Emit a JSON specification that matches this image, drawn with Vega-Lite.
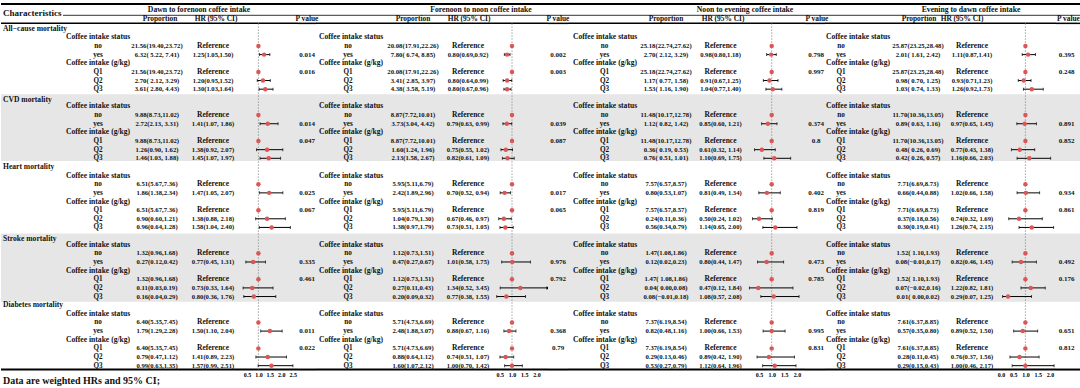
{
"$schema":"https://vega.github.io/schema/vega-lite/v6.json",
"padding":0,
"spacing":0,
"bounds":"flush",
"background":"#ffffff",
"config":{"view":{"stroke":null},"text":{"font":"Liberation Serif","fontWeight":"bold","color":"#111111","baseline":"middle"},"axis":{"labelFont":"Liberation Serif","labelFontWeight":"bold","labelFontSize":6,"labelColor":"#000000","domain":false,"ticks":false,"grid":false,"labelPadding":1,"labelOverlap":false,"labelFlush":false}},
"datasets":{
"labels":[
{"row":0,"kind":"outcome","text":"All−cause mortality"},{"row":1,"kind":"group","text":"Coffee intake status"},{"row":4,"kind":"group","text":"Coffee intake (g/kg)"},
{"row":8,"kind":"outcome","text":"CVD mortality"},{"row":9,"kind":"group","text":"Coffee intake status"},{"row":12,"kind":"group","text":"Coffee intake (g/kg)"},
{"row":16,"kind":"outcome","text":"Heart mortality"},{"row":17,"kind":"group","text":"Coffee intake status"},{"row":20,"kind":"group","text":"Coffee intake (g/kg)"},
{"row":24,"kind":"outcome","text":"Stroke mortality"},{"row":25,"kind":"group","text":"Coffee intake status"},{"row":28,"kind":"group","text":"Coffee intake (g/kg)"},
{"row":32,"kind":"outcome","text":"Diabetes mortality"},{"row":33,"kind":"group","text":"Coffee intake status"},{"row":36,"kind":"group","text":"Coffee intake (g/kg)"}
],
"main":[
{"period":"Dawn to forenoon","outcome":"All-cause","row":2,"level":"no","proportion":"21.56(19.40,23.72)","hr_text":"Reference","hr":1},
{"period":"Dawn to forenoon","outcome":"All-cause","row":3,"level":"yes","proportion":"6.32( 5.22, 7.41)","hr_text":"1.25(1.05,1.50)","hr":1.25,"lower":1.05,"upper":1.5,"p":"0.014"},
{"period":"Dawn to forenoon","outcome":"All-cause","row":5,"level":"Q1","proportion":"21.56(19.40,23.72)","hr_text":"Reference","hr":1,"p":"0.016"},
{"period":"Dawn to forenoon","outcome":"All-cause","row":6,"level":"Q2","proportion":"2.70( 2.12, 3.29)","hr_text":"1.20(0.95,1.52)","hr":1.2,"lower":0.95,"upper":1.52},
{"period":"Dawn to forenoon","outcome":"All-cause","row":7,"level":"Q3","proportion":"3.61( 2.80, 4.43)","hr_text":"1.30(1.03,1.64)","hr":1.3,"lower":1.03,"upper":1.64},
{"period":"Dawn to forenoon","outcome":"CVD","row":10,"level":"no","proportion":"9.88(8.73,11.02)","hr_text":"Reference","hr":1},
{"period":"Dawn to forenoon","outcome":"CVD","row":11,"level":"yes","proportion":"2.72(2.13, 3.31)","hr_text":"1.41(1.07, 1.86)","hr":1.41,"lower":1.07,"upper":1.86,"p":"0.014"},
{"period":"Dawn to forenoon","outcome":"CVD","row":13,"level":"Q1","proportion":"9.88(8.73,11.02)","hr_text":"Reference","hr":1,"p":"0.047"},
{"period":"Dawn to forenoon","outcome":"CVD","row":14,"level":"Q2","proportion":"1.26(0.90, 1.62)","hr_text":"1.38(0.92, 2.07)","hr":1.38,"lower":0.92,"upper":2.07},
{"period":"Dawn to forenoon","outcome":"CVD","row":15,"level":"Q3","proportion":"1.46(1.03, 1.88)","hr_text":"1.45(1.07, 1.97)","hr":1.45,"lower":1.07,"upper":1.97},
{"period":"Dawn to forenoon","outcome":"Heart","row":18,"level":"no","proportion":"6.51(5.67,7.36)","hr_text":"Reference","hr":1},
{"period":"Dawn to forenoon","outcome":"Heart","row":19,"level":"yes","proportion":"1.86(1.38,2.34)","hr_text":"1.47(1.05, 2.07)","hr":1.47,"lower":1.05,"upper":2.07,"p":"0.025"},
{"period":"Dawn to forenoon","outcome":"Heart","row":21,"level":"Q1","proportion":"6.51(5.67,7.36)","hr_text":"Reference","hr":1,"p":"0.067"},
{"period":"Dawn to forenoon","outcome":"Heart","row":22,"level":"Q2","proportion":"0.90(0.60,1.21)","hr_text":"1.38(0.88, 2.18)","hr":1.38,"lower":0.88,"upper":2.18},
{"period":"Dawn to forenoon","outcome":"Heart","row":23,"level":"Q3","proportion":"0.96(0.64,1.28)","hr_text":"1.58(1.04, 2.40)","hr":1.58,"lower":1.04,"upper":2.4},
{"period":"Dawn to forenoon","outcome":"Stroke","row":26,"level":"no","proportion":"1.32(0.96,1.68)","hr_text":"Reference","hr":1},
{"period":"Dawn to forenoon","outcome":"Stroke","row":27,"level":"yes","proportion":"0.27(0.12,0.42)","hr_text":"0.77(0.45, 1.31)","hr":0.77,"lower":0.45,"upper":1.31,"p":"0.335"},
{"period":"Dawn to forenoon","outcome":"Stroke","row":29,"level":"Q1","proportion":"1.32(0.96,1.68)","hr_text":"Reference","hr":1,"p":"0.461"},
{"period":"Dawn to forenoon","outcome":"Stroke","row":30,"level":"Q2","proportion":"0.11(0.03,0.19)","hr_text":"0.73(0.33, 1.64)","hr":0.73,"lower":0.33,"upper":1.64},
{"period":"Dawn to forenoon","outcome":"Stroke","row":31,"level":"Q3","proportion":"0.16(0.04,0.29)","hr_text":"0.80(0.36, 1.76)","hr":0.8,"lower":0.36,"upper":1.76},
{"period":"Dawn to forenoon","outcome":"Diabetes","row":34,"level":"no","proportion":"6.40(5.35,7.45)","hr_text":"Reference","hr":1},
{"period":"Dawn to forenoon","outcome":"Diabetes","row":35,"level":"yes","proportion":"1.79(1.29,2.28)","hr_text":"1.50(1.10, 2.04)","hr":1.5,"lower":1.1,"upper":2.04,"p":"0.011"},
{"period":"Dawn to forenoon","outcome":"Diabetes","row":37,"level":"Q1","proportion":"6.40(5.35,7.45)","hr_text":"Reference","hr":1,"p":"0.022"},
{"period":"Dawn to forenoon","outcome":"Diabetes","row":38,"level":"Q2","proportion":"0.79(0.47,1.12)","hr_text":"1.41(0.89, 2.23)","hr":1.41,"lower":0.89,"upper":2.23},
{"period":"Dawn to forenoon","outcome":"Diabetes","row":39,"level":"Q3","proportion":"0.99(0.63,1.35)","hr_text":"1.57(0.99, 2.51)","hr":1.57,"lower":0.99,"upper":2.51},
{"period":"Forenoon to noon","outcome":"All-cause","row":2,"level":"no","proportion":"20.08(17.91,22.26)","hr_text":"Reference","hr":1},
{"period":"Forenoon to noon","outcome":"All-cause","row":3,"level":"yes","proportion":"7.80( 6.74, 8.85)","hr_text":"0.80(0.69,0.92)","hr":0.8,"lower":0.69,"upper":0.92,"p":"0.002"},
{"period":"Forenoon to noon","outcome":"All-cause","row":5,"level":"Q1","proportion":"20.08(17.91,22.26)","hr_text":"Reference","hr":1,"p":"0.003"},
{"period":"Forenoon to noon","outcome":"All-cause","row":6,"level":"Q2","proportion":"3.41( 2.85, 3.97)","hr_text":"0.80(0.64,0.99)","hr":0.8,"lower":0.64,"upper":0.99},
{"period":"Forenoon to noon","outcome":"All-cause","row":7,"level":"Q3","proportion":"4.38( 3.58, 5.19)","hr_text":"0.80(0.67,0.96)","hr":0.8,"lower":0.67,"upper":0.96},
{"period":"Forenoon to noon","outcome":"CVD","row":10,"level":"no","proportion":"8.87(7.72,10.01)","hr_text":"Reference","hr":1},
{"period":"Forenoon to noon","outcome":"CVD","row":11,"level":"yes","proportion":"3.73(3.04, 4.42)","hr_text":"0.79(0.63, 0.99)","hr":0.79,"lower":0.63,"upper":0.99,"p":"0.039"},
{"period":"Forenoon to noon","outcome":"CVD","row":13,"level":"Q1","proportion":"8.87(7.72,10.01)","hr_text":"Reference","hr":1,"p":"0.087"},
{"period":"Forenoon to noon","outcome":"CVD","row":14,"level":"Q2","proportion":"1.60(1.24, 1.96)","hr_text":"0.75(0.55, 1.02)","hr":0.75,"lower":0.55,"upper":1.02},
{"period":"Forenoon to noon","outcome":"CVD","row":15,"level":"Q3","proportion":"2.13(1.58, 2.67)","hr_text":"0.82(0.61, 1.09)","hr":0.82,"lower":0.61,"upper":1.09},
{"period":"Forenoon to noon","outcome":"Heart","row":18,"level":"no","proportion":"5.95(5.11,6.79)","hr_text":"Reference","hr":1},
{"period":"Forenoon to noon","outcome":"Heart","row":19,"level":"yes","proportion":"2.42(1.89,2.96)","hr_text":"0.70(0.52, 0.94)","hr":0.7,"lower":0.52,"upper":0.94,"p":"0.017"},
{"period":"Forenoon to noon","outcome":"Heart","row":21,"level":"Q1","proportion":"5.95(5.11,6.79)","hr_text":"Reference","hr":1,"p":"0.065"},
{"period":"Forenoon to noon","outcome":"Heart","row":22,"level":"Q2","proportion":"1.04(0.79,1.30)","hr_text":"0.67(0.46, 0.97)","hr":0.67,"lower":0.46,"upper":0.97},
{"period":"Forenoon to noon","outcome":"Heart","row":23,"level":"Q3","proportion":"1.38(0.97,1.79)","hr_text":"0.73(0.51, 1.05)","hr":0.73,"lower":0.51,"upper":1.05},
{"period":"Forenoon to noon","outcome":"Stroke","row":26,"level":"no","proportion":"1.12(0.73,1.51)","hr_text":"Reference","hr":1},
{"period":"Forenoon to noon","outcome":"Stroke","row":27,"level":"yes","proportion":"0.47(0.27,0.67)","hr_text":"1.01(0.58, 1.75)","hr":1.01,"lower":0.58,"upper":1.75,"p":"0.976"},
{"period":"Forenoon to noon","outcome":"Stroke","row":29,"level":"Q1","proportion":"1.12(0.73,1.51)","hr_text":"Reference","hr":1,"p":"0.792"},
{"period":"Forenoon to noon","outcome":"Stroke","row":30,"level":"Q2","proportion":"0.27(0.11,0.43)","hr_text":"1.34(0.52, 3.45)","hr":1.34,"lower":0.52,"upper":3.45},
{"period":"Forenoon to noon","outcome":"Stroke","row":31,"level":"Q3","proportion":"0.20(0.09,0.32)","hr_text":"0.77(0.38, 1.55)","hr":0.77,"lower":0.38,"upper":1.55},
{"period":"Forenoon to noon","outcome":"Diabetes","row":34,"level":"no","proportion":"5.71(4.73,6.69)","hr_text":"Reference","hr":1},
{"period":"Forenoon to noon","outcome":"Diabetes","row":35,"level":"yes","proportion":"2.48(1.88,3.07)","hr_text":"0.88(0.67, 1.16)","hr":0.88,"lower":0.67,"upper":1.16,"p":"0.368"},
{"period":"Forenoon to noon","outcome":"Diabetes","row":37,"level":"Q1","proportion":"5.71(4.73,6.69)","hr_text":"Reference","hr":1,"p":"0.79"},
{"period":"Forenoon to noon","outcome":"Diabetes","row":38,"level":"Q2","proportion":"0.88(0.64,1.12)","hr_text":"0.74(0.51, 1.07)","hr":0.74,"lower":0.51,"upper":1.07},
{"period":"Forenoon to noon","outcome":"Diabetes","row":39,"level":"Q3","proportion":"1.60(1.07,2.12)","hr_text":"1.00(0.70, 1.42)","hr":1.0,"lower":0.7,"upper":1.42},
{"period":"Noon to evening","outcome":"All-cause","row":2,"level":"no","proportion":"25.18(22.74,27.62)","hr_text":"Reference","hr":1},
{"period":"Noon to evening","outcome":"All-cause","row":3,"level":"yes","proportion":"2.70( 2.12, 3.29)","hr_text":"0.98(0.80,1.18)","hr":0.98,"lower":0.8,"upper":1.18,"p":"0.798"},
{"period":"Noon to evening","outcome":"All-cause","row":5,"level":"Q1","proportion":"25.18(22.74,27.62)","hr_text":"Reference","hr":1,"p":"0.997"},
{"period":"Noon to evening","outcome":"All-cause","row":6,"level":"Q2","proportion":"1.17( 0.77, 1.58)","hr_text":"0.91(0.67,1.25)","hr":0.91,"lower":0.67,"upper":1.25},
{"period":"Noon to evening","outcome":"All-cause","row":7,"level":"Q3","proportion":"1.53( 1.16, 1.90)","hr_text":"1.04(0.77,1.40)","hr":1.04,"lower":0.77,"upper":1.4},
{"period":"Noon to evening","outcome":"CVD","row":10,"level":"no","proportion":"11.48(10.17,12.78)","hr_text":"Reference","hr":1},
{"period":"Noon to evening","outcome":"CVD","row":11,"level":"yes","proportion":"1.12( 0.82, 1.42)","hr_text":"0.85(0.60, 1.21)","hr":0.85,"lower":0.6,"upper":1.21,"p":"0.374"},
{"period":"Noon to evening","outcome":"CVD","row":13,"level":"Q1","proportion":"11.48(10.17,12.78)","hr_text":"Reference","hr":1,"p":"0.8"},
{"period":"Noon to evening","outcome":"CVD","row":14,"level":"Q2","proportion":"0.36( 0.19, 0.53)","hr_text":"0.61(0.32, 1.14)","hr":0.61,"lower":0.32,"upper":1.14},
{"period":"Noon to evening","outcome":"CVD","row":15,"level":"Q3","proportion":"0.76( 0.51, 1.01)","hr_text":"1.10(0.69, 1.75)","hr":1.1,"lower":0.69,"upper":1.75},
{"period":"Noon to evening","outcome":"Heart","row":18,"level":"no","proportion":"7.57(6.57,8.57)","hr_text":"Reference","hr":1},
{"period":"Noon to evening","outcome":"Heart","row":19,"level":"yes","proportion":"0.80(0.53,1.07)","hr_text":"0.81(0.49, 1.34)","hr":0.81,"lower":0.49,"upper":1.34,"p":"0.402"},
{"period":"Noon to evening","outcome":"Heart","row":21,"level":"Q1","proportion":"7.57(6.57,8.57)","hr_text":"Reference","hr":1,"p":"0.819"},
{"period":"Noon to evening","outcome":"Heart","row":22,"level":"Q2","proportion":"0.24(0.11,0.36)","hr_text":"0.50(0.24, 1.02)","hr":0.5,"lower":0.24,"upper":1.02},
{"period":"Noon to evening","outcome":"Heart","row":23,"level":"Q3","proportion":"0.56(0.34,0.79)","hr_text":"1.14(0.65, 2.00)","hr":1.14,"lower":0.65,"upper":2.0},
{"period":"Noon to evening","outcome":"Stroke","row":26,"level":"no","proportion":"1.47(1.08,1.86)","hr_text":"Reference","hr":1},
{"period":"Noon to evening","outcome":"Stroke","row":27,"level":"yes","proportion":"0.12(0.02,0.23)","hr_text":"0.80(0.44, 1.47)","hr":0.8,"lower":0.44,"upper":1.47,"p":"0.473"},
{"period":"Noon to evening","outcome":"Stroke","row":29,"level":"Q1","proportion":"1.47( 1.08,1.86)","hr_text":"Reference","hr":1,"p":"0.785"},
{"period":"Noon to evening","outcome":"Stroke","row":30,"level":"Q2","proportion":"0.04( 0.00,0.08)","hr_text":"0.47(0.12, 1.84)","hr":0.47,"lower":0.12,"upper":1.84},
{"period":"Noon to evening","outcome":"Stroke","row":31,"level":"Q3","proportion":"0.08(−0.01,0.18)","hr_text":"1.08(0.57, 2.08)","hr":1.08,"lower":0.57,"upper":2.08},
{"period":"Noon to evening","outcome":"Diabetes","row":34,"level":"no","proportion":"7.37(6.19,8.54)","hr_text":"Reference","hr":1},
{"period":"Noon to evening","outcome":"Diabetes","row":35,"level":"yes","proportion":"0.82(0.48,1.16)","hr_text":"1.00(0.66, 1.53)","hr":1.0,"lower":0.66,"upper":1.53,"p":"0.995"},
{"period":"Noon to evening","outcome":"Diabetes","row":37,"level":"Q1","proportion":"7.37(6.19,8.54)","hr_text":"Reference","hr":1,"p":"0.831"},
{"period":"Noon to evening","outcome":"Diabetes","row":38,"level":"Q2","proportion":"0.29(0.13,0.46)","hr_text":"0.89(0.42, 1.90)","hr":0.89,"lower":0.42,"upper":1.9},
{"period":"Noon to evening","outcome":"Diabetes","row":39,"level":"Q3","proportion":"0.53(0.27,0.79)","hr_text":"1.12(0.64, 1.96)","hr":1.12,"lower":0.64,"upper":1.96},
{"period":"Evening to dawn","outcome":"All-cause","row":2,"level":"no","proportion":"25.87(23.25,28.48)","hr_text":"Reference","hr":1},
{"period":"Evening to dawn","outcome":"All-cause","row":3,"level":"yes","proportion":"2.01( 1.61, 2.42)","hr_text":"1.11(0.87,1.41)","hr":1.11,"lower":0.87,"upper":1.41,"p":"0.395"},
{"period":"Evening to dawn","outcome":"All-cause","row":5,"level":"Q1","proportion":"25.87(23.25,28.48)","hr_text":"Reference","hr":1,"p":"0.248"},
{"period":"Evening to dawn","outcome":"All-cause","row":6,"level":"Q2","proportion":"0.98( 0.70, 1.25)","hr_text":"0.93(0.71,1.23)","hr":0.93,"lower":0.71,"upper":1.23},
{"period":"Evening to dawn","outcome":"All-cause","row":7,"level":"Q3","proportion":"1.03( 0.74, 1.33)","hr_text":"1.26(0.92,1.73)","hr":1.26,"lower":0.92,"upper":1.73},
{"period":"Evening to dawn","outcome":"CVD","row":10,"level":"no","proportion":"11.70(10.36,13.05)","hr_text":"Reference","hr":1},
{"period":"Evening to dawn","outcome":"CVD","row":11,"level":"yes","proportion":"0.89( 0.63, 1.16)","hr_text":"0.97(0.65, 1.45)","hr":0.97,"lower":0.65,"upper":1.45,"p":"0.891"},
{"period":"Evening to dawn","outcome":"CVD","row":13,"level":"Q1","proportion":"11.70(10.36,13.05)","hr_text":"Reference","hr":1,"p":"0.852"},
{"period":"Evening to dawn","outcome":"CVD","row":14,"level":"Q2","proportion":"0.48( 0.26, 0.69)","hr_text":"0.77(0.43, 1.38)","hr":0.77,"lower":0.43,"upper":1.38},
{"period":"Evening to dawn","outcome":"CVD","row":15,"level":"Q3","proportion":"0.42( 0.26, 0.57)","hr_text":"1.16(0.66, 2.03)","hr":1.16,"lower":0.66,"upper":2.03},
{"period":"Evening to dawn","outcome":"Heart","row":18,"level":"no","proportion":"7.71(6.69,8.73)","hr_text":"Reference","hr":1},
{"period":"Evening to dawn","outcome":"Heart","row":19,"level":"yes","proportion":"0.66(0.44,0.88)","hr_text":"1.02(0.66, 1.58)","hr":1.02,"lower":0.66,"upper":1.58,"p":"0.934"},
{"period":"Evening to dawn","outcome":"Heart","row":21,"level":"Q1","proportion":"7.71(6.69,8.73)","hr_text":"Reference","hr":1,"p":"0.861"},
{"period":"Evening to dawn","outcome":"Heart","row":22,"level":"Q2","proportion":"0.37(0.18,0.56)","hr_text":"0.74(0.32, 1.69)","hr":0.74,"lower":0.32,"upper":1.69},
{"period":"Evening to dawn","outcome":"Heart","row":23,"level":"Q3","proportion":"0.30(0.19,0.41)","hr_text":"1.26(0.74, 2.15)","hr":1.26,"lower":0.74,"upper":2.15},
{"period":"Evening to dawn","outcome":"Stroke","row":26,"level":"no","proportion":"1.52( 1.10,1.93)","hr_text":"Reference","hr":1},
{"period":"Evening to dawn","outcome":"Stroke","row":27,"level":"yes","proportion":"0.08(−0.01,0.17)","hr_text":"0.82(0.46, 1.45)","hr":0.82,"lower":0.46,"upper":1.45,"p":"0.492"},
{"period":"Evening to dawn","outcome":"Stroke","row":29,"level":"Q1","proportion":"1.52( 1.10,1.93)","hr_text":"Reference","hr":1,"p":"0.176"},
{"period":"Evening to dawn","outcome":"Stroke","row":30,"level":"Q2","proportion":"0.07(−0.02,0.16)","hr_text":"1.22(0.82, 1.81)","hr":1.22,"lower":0.82,"upper":1.81},
{"period":"Evening to dawn","outcome":"Stroke","row":31,"level":"Q3","proportion":"0.01( 0.00,0.02)","hr_text":"0.29(0.07, 1.25)","hr":0.29,"lower":0.07,"upper":1.25},
{"period":"Evening to dawn","outcome":"Diabetes","row":34,"level":"no","proportion":"7.61(6.37,8.85)","hr_text":"Reference","hr":1},
{"period":"Evening to dawn","outcome":"Diabetes","row":35,"level":"yes","proportion":"0.57(0.35,0.80)","hr_text":"0.89(0.52, 1.50)","hr":0.89,"lower":0.52,"upper":1.5,"p":"0.651"},
{"period":"Evening to dawn","outcome":"Diabetes","row":37,"level":"Q1","proportion":"7.61(6.37,8.85)","hr_text":"Reference","hr":1,"p":"0.812"},
{"period":"Evening to dawn","outcome":"Diabetes","row":38,"level":"Q2","proportion":"0.28(0.11,0.45)","hr_text":"0.76(0.37, 1.56)","hr":0.76,"lower":0.37,"upper":1.56},
{"period":"Evening to dawn","outcome":"Diabetes","row":39,"level":"Q3","proportion":"0.29(0.15,0.43)","hr_text":"1.00(0.46, 2.17)","hr":1.0,"lower":0.46,"upper":2.17}
]},
"hconcat":[
{"width":62,"height":370,"layer":[
{"data":{"values":[{}]},"mark":{"type":"rect","color":"#e6e6e6"},"encoding":{"y":{"datum":7.6,"type":"quantitative","scale":{"domain":[-3.322,39.502],"reverse":true,"nice":false,"zero":false},"axis":null},"y2":{"datum":15.3}}},
{"data":{"values":[{}]},"mark":{"type":"rect","color":"#e6e6e6"},"encoding":{"y":{"datum":23.7,"type":"quantitative","scale":{"domain":[-3.322,39.502],"reverse":true,"nice":false,"zero":false},"axis":null},"y2":{"datum":31.6}}},
{"data":{"values":[{}]},"mark":{"type":"rule","color":"#000000","strokeWidth":2},"encoding":{"y":{"datum":-2.86,"type":"quantitative","scale":{"domain":[-3.322,39.502],"reverse":true,"nice":false,"zero":false},"axis":null}}},
{"data":{"values":[{}]},"mark":{"type":"rule","color":"#000000","strokeWidth":1.5},"encoding":{"y":{"datum":-0.62,"type":"quantitative","scale":{"domain":[-3.322,39.502],"reverse":true,"nice":false,"zero":false},"axis":null}}},
{"data":{"values":[{}]},"mark":{"type":"rule","color":"#000000","strokeWidth":2},"encoding":{"y":{"datum":39.45,"type":"quantitative","scale":{"domain":[-3.322,39.502],"reverse":true,"nice":false,"zero":false},"axis":null}}},
{"data":{"values":[{}]},"mark":{"type":"text","align":"left","dx":-29,"fontSize":9},"encoding":{"y":{"datum":-1.78,"type":"quantitative","scale":{"domain":[-3.322,39.502],"reverse":true,"nice":false,"zero":false},"axis":null},"text":{"value":"Characteristics"}}},
{"data":{"name":"labels"},"transform":[{"filter":"datum.kind==='outcome' && datum.text!=='CVD mortality' && datum.text!=='Stroke mortality'"}],"mark":{"type":"text","align":"left","dx":-29,"fontSize":7.6},"encoding":{"y":{"field":"row","type":"quantitative","scale":{"domain":[-3.322,39.502],"reverse":true,"nice":false,"zero":false},"axis":null},"text":{"field":"text"}}},
{"data":{"name":"labels"},"transform":[{"filter":"datum.text==='CVD mortality' || datum.text==='Stroke mortality'"}],"mark":{"type":"text","align":"left","dx":-29,"dy":2.5,"fontSize":7.6},"encoding":{"y":{"field":"row","type":"quantitative","scale":{"domain":[-3.322,39.502],"reverse":true,"nice":false,"zero":false},"axis":null},"text":{"field":"text"}}},
{"data":{"values":[{}]},"mark":{"type":"text","align":"left","dx":-29,"fontSize":10},"encoding":{"y":{"datum":40.78,"type":"quantitative","scale":{"domain":[-3.322,39.502],"reverse":true,"nice":false,"zero":false},"axis":null},"text":{"value":"Data are weighted HRs and 95% CI;"}}}
]},

{"width":72,"height":370,"layer":[
{"data":{"values":[{}]},"mark":{"type":"rect","color":"#e6e6e6"},"encoding":{"y":{"datum":7.6,"type":"quantitative","scale":{"domain":[-3.322,39.502],"reverse":true,"nice":false,"zero":false},"axis":null},"y2":{"datum":15.3}}},
{"data":{"values":[{}]},"mark":{"type":"rect","color":"#e6e6e6"},"encoding":{"y":{"datum":23.7,"type":"quantitative","scale":{"domain":[-3.322,39.502],"reverse":true,"nice":false,"zero":false},"axis":null},"y2":{"datum":31.6}}},
{"data":{"values":[{}]},"mark":{"type":"rule","color":"#000000","strokeWidth":2},"encoding":{"y":{"datum":-2.86,"type":"quantitative","scale":{"domain":[-3.322,39.502],"reverse":true,"nice":false,"zero":false},"axis":null}}},
{"data":{"values":[{}]},"mark":{"type":"rule","color":"#000000","strokeWidth":0.8},"encoding":{"y":{"datum":-1.55,"type":"quantitative","scale":{"domain":[-3.322,39.502],"reverse":true,"nice":false,"zero":false},"axis":null}}},
{"data":{"values":[{}]},"mark":{"type":"rule","color":"#000000","strokeWidth":1.5},"encoding":{"y":{"datum":-0.62,"type":"quantitative","scale":{"domain":[-3.322,39.502],"reverse":true,"nice":false,"zero":false},"axis":null}}},
{"data":{"values":[{}]},"mark":{"type":"rule","color":"#000000","strokeWidth":2},"encoding":{"y":{"datum":39.45,"type":"quantitative","scale":{"domain":[-3.322,39.502],"reverse":true,"nice":false,"zero":false},"axis":null}}},
{"data":{"name":"labels"},"transform":[{"filter":"datum.kind==='group'"}],"mark":{"type":"text","align":"left","dx":-33,"fontSize":7.6},"encoding":{"y":{"field":"row","type":"quantitative","scale":{"domain":[-3.322,39.502],"reverse":true,"nice":false,"zero":false},"axis":null},"text":{"field":"text"}}},
{"data":{"name":"main"},"transform":[{"filter":"datum.period==='Dawn to forenoon'"}],"mark":{"type":"text","fontSize":7.2,"dx":-1},"encoding":{"y":{"field":"row","type":"quantitative","scale":{"domain":[-3.322,39.502],"reverse":true,"nice":false,"zero":false},"axis":null},"text":{"field":"level"}}}
]},

{"width":52,"height":370,"layer":[
{"data":{"values":[{}]},"mark":{"type":"rect","color":"#e6e6e6"},"encoding":{"y":{"datum":7.6,"type":"quantitative","scale":{"domain":[-3.322,39.502],"reverse":true,"nice":false,"zero":false},"axis":null},"y2":{"datum":15.3}}},
{"data":{"values":[{}]},"mark":{"type":"rect","color":"#e6e6e6"},"encoding":{"y":{"datum":23.7,"type":"quantitative","scale":{"domain":[-3.322,39.502],"reverse":true,"nice":false,"zero":false},"axis":null},"y2":{"datum":31.6}}},
{"data":{"values":[{}]},"mark":{"type":"rule","color":"#000000","strokeWidth":2},"encoding":{"y":{"datum":-2.86,"type":"quantitative","scale":{"domain":[-3.322,39.502],"reverse":true,"nice":false,"zero":false},"axis":null}}},
{"data":{"values":[{}]},"mark":{"type":"rule","color":"#000000","strokeWidth":0.8},"encoding":{"y":{"datum":-1.55,"type":"quantitative","scale":{"domain":[-3.322,39.502],"reverse":true,"nice":false,"zero":false},"axis":null}}},
{"data":{"values":[{}]},"mark":{"type":"rule","color":"#000000","strokeWidth":1.5},"encoding":{"y":{"datum":-0.62,"type":"quantitative","scale":{"domain":[-3.322,39.502],"reverse":true,"nice":false,"zero":false},"axis":null}}},
{"data":{"values":[{}]},"mark":{"type":"rule","color":"#000000","strokeWidth":2},"encoding":{"y":{"datum":39.45,"type":"quantitative","scale":{"domain":[-3.322,39.502],"reverse":true,"nice":false,"zero":false},"axis":null}}},
{"data":{"values":[{}]},"mark":{"type":"text","fontSize":7.4,"dx":-1},"encoding":{"y":{"datum":-1.088,"type":"quantitative","scale":{"domain":[-3.322,39.502],"reverse":true,"nice":false,"zero":false},"axis":null},"text":{"value":"Proportion"}}},
{"data":{"name":"main"},"transform":[{"filter":"datum.period==='Dawn to forenoon'"}],"mark":{"type":"text","fontSize":6.7,"dx":-4},"encoding":{"y":{"field":"row","type":"quantitative","scale":{"domain":[-3.322,39.502],"reverse":true,"nice":false,"zero":false},"axis":null},"text":{"field":"proportion"}}}
]},

{"width":54,"height":370,"layer":[
{"data":{"values":[{}]},"mark":{"type":"rect","color":"#e6e6e6"},"encoding":{"y":{"datum":7.6,"type":"quantitative","scale":{"domain":[-3.322,39.502],"reverse":true,"nice":false,"zero":false},"axis":null},"y2":{"datum":15.3}}},
{"data":{"values":[{}]},"mark":{"type":"rect","color":"#e6e6e6"},"encoding":{"y":{"datum":23.7,"type":"quantitative","scale":{"domain":[-3.322,39.502],"reverse":true,"nice":false,"zero":false},"axis":null},"y2":{"datum":31.6}}},
{"data":{"values":[{}]},"mark":{"type":"rule","color":"#000000","strokeWidth":2},"encoding":{"y":{"datum":-2.86,"type":"quantitative","scale":{"domain":[-3.322,39.502],"reverse":true,"nice":false,"zero":false},"axis":null}}},
{"data":{"values":[{}]},"mark":{"type":"rule","color":"#000000","strokeWidth":0.8},"encoding":{"y":{"datum":-1.55,"type":"quantitative","scale":{"domain":[-3.322,39.502],"reverse":true,"nice":false,"zero":false},"axis":null}}},
{"data":{"values":[{}]},"mark":{"type":"rule","color":"#000000","strokeWidth":1.5},"encoding":{"y":{"datum":-0.62,"type":"quantitative","scale":{"domain":[-3.322,39.502],"reverse":true,"nice":false,"zero":false},"axis":null}}},
{"data":{"values":[{}]},"mark":{"type":"rule","color":"#000000","strokeWidth":2},"encoding":{"y":{"datum":39.45,"type":"quantitative","scale":{"domain":[-3.322,39.502],"reverse":true,"nice":false,"zero":false},"axis":null}}},
{"data":{"values":[{}]},"mark":{"type":"text","fontSize":7.7,"dx":-15},"encoding":{"y":{"datum":-2.164,"type":"quantitative","scale":{"domain":[-3.322,39.502],"reverse":true,"nice":false,"zero":false},"axis":null},"text":{"value":"Dawn to forenoon coffee intake"}}},
{"data":{"values":[{}]},"mark":{"type":"text","fontSize":7.4,"dx":2},"encoding":{"y":{"datum":-1.088,"type":"quantitative","scale":{"domain":[-3.322,39.502],"reverse":true,"nice":false,"zero":false},"axis":null},"text":{"value":"HR (95% CI)"}}},
{"data":{"name":"main"},"transform":[{"filter":"datum.period==='Dawn to forenoon'"}],"mark":{"type":"text","dx":-1},"encoding":{"y":{"field":"row","type":"quantitative","scale":{"domain":[-3.322,39.502],"reverse":true,"nice":false,"zero":false},"axis":null},"text":{"field":"hr_text"},"size":{"condition":{"test":"datum.hr_text==='Reference'","value":7.5},"value":6.6}}}
]},

{"width":57,"height":370,"layer":[
{"data":{"values":[{}]},"mark":{"type":"rect","color":"#e6e6e6"},"encoding":{"x":{"datum":0.2385,"type":"quantitative","scale":{"domain":[0.2385,2.733],"nice":false,"zero":false,"clamp":true},"axis":{"values":[0.5,1,1.5,2,2.5],"format":".1f","title":null}},"x2":{"datum":2.733},"y":{"datum":7.6,"type":"quantitative","scale":{"domain":[-3.322,39.502],"reverse":true,"nice":false,"zero":false},"axis":null},"y2":{"datum":15.3}}},
{"data":{"values":[{}]},"mark":{"type":"rect","color":"#e6e6e6"},"encoding":{"x":{"datum":0.2385,"type":"quantitative","scale":{"domain":[0.2385,2.733],"nice":false,"zero":false,"clamp":true},"axis":{"values":[0.5,1,1.5,2,2.5],"format":".1f","title":null}},"x2":{"datum":2.733},"y":{"datum":23.7,"type":"quantitative","scale":{"domain":[-3.322,39.502],"reverse":true,"nice":false,"zero":false},"axis":null},"y2":{"datum":31.6}}},
{"data":{"values":[{}]},"mark":{"type":"rule","color":"#000000","strokeWidth":2},"encoding":{"x":{"datum":0.2385,"type":"quantitative","scale":{"domain":[0.2385,2.733],"nice":false,"zero":false,"clamp":true},"axis":{"values":[0.5,1,1.5,2,2.5],"format":".1f","title":null}},"x2":{"datum":2.733},"y":{"datum":-2.86,"type":"quantitative","scale":{"domain":[-3.322,39.502],"reverse":true,"nice":false,"zero":false},"axis":null}}},
{"data":{"values":[{}]},"mark":{"type":"rule","color":"#000000","strokeWidth":0.8},"encoding":{"x":{"datum":0.2385,"type":"quantitative","scale":{"domain":[0.2385,2.733],"nice":false,"zero":false,"clamp":true},"axis":{"values":[0.5,1,1.5,2,2.5],"format":".1f","title":null}},"x2":{"datum":2.733},"y":{"datum":-1.55,"type":"quantitative","scale":{"domain":[-3.322,39.502],"reverse":true,"nice":false,"zero":false},"axis":null}}},
{"data":{"values":[{}]},"mark":{"type":"rule","color":"#000000","strokeWidth":1.5},"encoding":{"x":{"datum":0.2385,"type":"quantitative","scale":{"domain":[0.2385,2.733],"nice":false,"zero":false,"clamp":true},"axis":{"values":[0.5,1,1.5,2,2.5],"format":".1f","title":null}},"x2":{"datum":2.733},"y":{"datum":-0.62,"type":"quantitative","scale":{"domain":[-3.322,39.502],"reverse":true,"nice":false,"zero":false},"axis":null}}},
{"data":{"values":[{}]},"mark":{"type":"rule","color":"#000000","strokeWidth":2},"encoding":{"x":{"datum":0.2385,"type":"quantitative","scale":{"domain":[0.2385,2.733],"nice":false,"zero":false,"clamp":true},"axis":{"values":[0.5,1,1.5,2,2.5],"format":".1f","title":null}},"x2":{"datum":2.733},"y":{"datum":39.45,"type":"quantitative","scale":{"domain":[-3.322,39.502],"reverse":true,"nice":false,"zero":false},"axis":null}}},
{"data":{"values":[{}]},"mark":{"type":"rule","color":"#8c8c8c","strokeWidth":0.8,"strokeDash":[1.5,1.5]},"encoding":{"x":{"datum":1,"type":"quantitative","scale":{"domain":[0.2385,2.733],"nice":false,"zero":false,"clamp":true},"axis":{"values":[0.5,1,1.5,2,2.5],"format":".1f","title":null}},"y":{"datum":-0.62,"type":"quantitative","scale":{"domain":[-3.322,39.502],"reverse":true,"nice":false,"zero":false},"axis":null},"y2":{"datum":39.45}}},
{"data":{"name":"main"},"transform":[{"filter":"datum.period==='Dawn to forenoon' && isValid(datum.lower)"}],"mark":{"type":"rule","color":"#000000","strokeWidth":1},"encoding":{"x":{"field":"lower","type":"quantitative","scale":{"domain":[0.2385,2.733],"nice":false,"zero":false,"clamp":true},"axis":{"values":[0.5,1,1.5,2,2.5],"format":".1f","title":null}},"x2":{"field":"upper"},"y":{"field":"row","type":"quantitative","scale":{"domain":[-3.322,39.502],"reverse":true,"nice":false,"zero":false},"axis":null}}},
{"data":{"name":"main"},"transform":[{"filter":"datum.period==='Dawn to forenoon' && isValid(datum.lower)"}],"mark":{"type":"tick","orient":"vertical","color":"#000000","size":3,"thickness":1},"encoding":{"x":{"field":"lower","type":"quantitative","scale":{"domain":[0.2385,2.733],"nice":false,"zero":false,"clamp":true},"axis":{"values":[0.5,1,1.5,2,2.5],"format":".1f","title":null}},"y":{"field":"row","type":"quantitative","scale":{"domain":[-3.322,39.502],"reverse":true,"nice":false,"zero":false},"axis":null}}},
{"data":{"name":"main"},"transform":[{"filter":"datum.period==='Dawn to forenoon' && isValid(datum.upper) && datum.upper<=2.733"}],"mark":{"type":"tick","orient":"vertical","color":"#000000","size":3,"thickness":1},"encoding":{"x":{"field":"upper","type":"quantitative","scale":{"domain":[0.2385,2.733],"nice":false,"zero":false,"clamp":true},"axis":{"values":[0.5,1,1.5,2,2.5],"format":".1f","title":null}},"y":{"field":"row","type":"quantitative","scale":{"domain":[-3.322,39.502],"reverse":true,"nice":false,"zero":false},"axis":null}}},
{"data":{"name":"main"},"transform":[{"filter":"datum.period==='Dawn to forenoon'"}],"mark":{"type":"point","filled":true,"color":"#dc5656","opacity":1,"size":20},"encoding":{"x":{"field":"hr","type":"quantitative","scale":{"domain":[0.2385,2.733],"nice":false,"zero":false,"clamp":true},"axis":{"values":[0.5,1,1.5,2,2.5],"format":".1f","title":null}},"y":{"field":"row","type":"quantitative","scale":{"domain":[-3.322,39.502],"reverse":true,"nice":false,"zero":false},"axis":null}}}
]},

{"width":18,"height":370,"layer":[
{"data":{"values":[{}]},"mark":{"type":"rect","color":"#e6e6e6"},"encoding":{"y":{"datum":7.6,"type":"quantitative","scale":{"domain":[-3.322,39.502],"reverse":true,"nice":false,"zero":false},"axis":null},"y2":{"datum":15.3}}},
{"data":{"values":[{}]},"mark":{"type":"rect","color":"#e6e6e6"},"encoding":{"y":{"datum":23.7,"type":"quantitative","scale":{"domain":[-3.322,39.502],"reverse":true,"nice":false,"zero":false},"axis":null},"y2":{"datum":31.6}}},
{"data":{"values":[{}]},"mark":{"type":"rule","color":"#000000","strokeWidth":2},"encoding":{"y":{"datum":-2.86,"type":"quantitative","scale":{"domain":[-3.322,39.502],"reverse":true,"nice":false,"zero":false},"axis":null}}},
{"data":{"values":[{}]},"mark":{"type":"rule","color":"#000000","strokeWidth":0.8},"encoding":{"y":{"datum":-1.55,"type":"quantitative","scale":{"domain":[-3.322,39.502],"reverse":true,"nice":false,"zero":false},"axis":null}}},
{"data":{"values":[{}]},"mark":{"type":"rule","color":"#000000","strokeWidth":1.5},"encoding":{"y":{"datum":-0.62,"type":"quantitative","scale":{"domain":[-3.322,39.502],"reverse":true,"nice":false,"zero":false},"axis":null}}},
{"data":{"values":[{}]},"mark":{"type":"rule","color":"#000000","strokeWidth":2},"encoding":{"y":{"datum":39.45,"type":"quantitative","scale":{"domain":[-3.322,39.502],"reverse":true,"nice":false,"zero":false},"axis":null}}},
{"data":{"values":[{}]},"mark":{"type":"text","fontSize":7.4},"encoding":{"y":{"datum":-1.088,"type":"quantitative","scale":{"domain":[-3.322,39.502],"reverse":true,"nice":false,"zero":false},"axis":null},"text":{"value":"P value"}}},
{"data":{"name":"main"},"transform":[{"filter":"datum.period==='Dawn to forenoon' && isValid(datum.p)"}],"mark":{"type":"text","fontSize":7},"encoding":{"y":{"field":"row","type":"quantitative","scale":{"domain":[-3.322,39.502],"reverse":true,"nice":false,"zero":false},"axis":null},"text":{"field":"p"}}}
]},

{"width":71,"height":370,"layer":[
{"data":{"values":[{}]},"mark":{"type":"rect","color":"#e6e6e6"},"encoding":{"y":{"datum":7.6,"type":"quantitative","scale":{"domain":[-3.322,39.502],"reverse":true,"nice":false,"zero":false},"axis":null},"y2":{"datum":15.3}}},
{"data":{"values":[{}]},"mark":{"type":"rect","color":"#e6e6e6"},"encoding":{"y":{"datum":23.7,"type":"quantitative","scale":{"domain":[-3.322,39.502],"reverse":true,"nice":false,"zero":false},"axis":null},"y2":{"datum":31.6}}},
{"data":{"values":[{}]},"mark":{"type":"rule","color":"#000000","strokeWidth":2},"encoding":{"y":{"datum":-2.86,"type":"quantitative","scale":{"domain":[-3.322,39.502],"reverse":true,"nice":false,"zero":false},"axis":null}}},
{"data":{"values":[{}]},"mark":{"type":"rule","color":"#000000","strokeWidth":0.8},"encoding":{"y":{"datum":-1.55,"type":"quantitative","scale":{"domain":[-3.322,39.502],"reverse":true,"nice":false,"zero":false},"axis":null}}},
{"data":{"values":[{}]},"mark":{"type":"rule","color":"#000000","strokeWidth":1.5},"encoding":{"y":{"datum":-0.62,"type":"quantitative","scale":{"domain":[-3.322,39.502],"reverse":true,"nice":false,"zero":false},"axis":null}}},
{"data":{"values":[{}]},"mark":{"type":"rule","color":"#000000","strokeWidth":2},"encoding":{"y":{"datum":39.45,"type":"quantitative","scale":{"domain":[-3.322,39.502],"reverse":true,"nice":false,"zero":false},"axis":null}}},
{"data":{"name":"labels"},"transform":[{"filter":"datum.kind==='group'"}],"mark":{"type":"text","align":"left","dx":-32.5,"fontSize":7.6},"encoding":{"y":{"field":"row","type":"quantitative","scale":{"domain":[-3.322,39.502],"reverse":true,"nice":false,"zero":false},"axis":null},"text":{"field":"text"}}},
{"data":{"name":"main"},"transform":[{"filter":"datum.period==='Forenoon to noon'"}],"mark":{"type":"text","fontSize":7.2,"dx":-3.5},"encoding":{"y":{"field":"row","type":"quantitative","scale":{"domain":[-3.322,39.502],"reverse":true,"nice":false,"zero":false},"axis":null},"text":{"field":"level"}}}
]},

{"width":56,"height":370,"layer":[
{"data":{"values":[{}]},"mark":{"type":"rect","color":"#e6e6e6"},"encoding":{"y":{"datum":7.6,"type":"quantitative","scale":{"domain":[-3.322,39.502],"reverse":true,"nice":false,"zero":false},"axis":null},"y2":{"datum":15.3}}},
{"data":{"values":[{}]},"mark":{"type":"rect","color":"#e6e6e6"},"encoding":{"y":{"datum":23.7,"type":"quantitative","scale":{"domain":[-3.322,39.502],"reverse":true,"nice":false,"zero":false},"axis":null},"y2":{"datum":31.6}}},
{"data":{"values":[{}]},"mark":{"type":"rule","color":"#000000","strokeWidth":2},"encoding":{"y":{"datum":-2.86,"type":"quantitative","scale":{"domain":[-3.322,39.502],"reverse":true,"nice":false,"zero":false},"axis":null}}},
{"data":{"values":[{}]},"mark":{"type":"rule","color":"#000000","strokeWidth":0.8},"encoding":{"y":{"datum":-1.55,"type":"quantitative","scale":{"domain":[-3.322,39.502],"reverse":true,"nice":false,"zero":false},"axis":null}}},
{"data":{"values":[{}]},"mark":{"type":"rule","color":"#000000","strokeWidth":1.5},"encoding":{"y":{"datum":-0.62,"type":"quantitative","scale":{"domain":[-3.322,39.502],"reverse":true,"nice":false,"zero":false},"axis":null}}},
{"data":{"values":[{}]},"mark":{"type":"rule","color":"#000000","strokeWidth":2},"encoding":{"y":{"datum":39.45,"type":"quantitative","scale":{"domain":[-3.322,39.502],"reverse":true,"nice":false,"zero":false},"axis":null}}},
{"data":{"values":[{}]},"mark":{"type":"text","fontSize":7.4,"dx":-2},"encoding":{"y":{"datum":-1.088,"type":"quantitative","scale":{"domain":[-3.322,39.502],"reverse":true,"nice":false,"zero":false},"axis":null},"text":{"value":"Proportion"}}},
{"data":{"name":"main"},"transform":[{"filter":"datum.period==='Forenoon to noon'"}],"mark":{"type":"text","fontSize":6.7,"dx":-2},"encoding":{"y":{"field":"row","type":"quantitative","scale":{"domain":[-3.322,39.502],"reverse":true,"nice":false,"zero":false},"axis":null},"text":{"field":"proportion"}}}
]},

{"width":50,"height":370,"layer":[
{"data":{"values":[{}]},"mark":{"type":"rect","color":"#e6e6e6"},"encoding":{"y":{"datum":7.6,"type":"quantitative","scale":{"domain":[-3.322,39.502],"reverse":true,"nice":false,"zero":false},"axis":null},"y2":{"datum":15.3}}},
{"data":{"values":[{}]},"mark":{"type":"rect","color":"#e6e6e6"},"encoding":{"y":{"datum":23.7,"type":"quantitative","scale":{"domain":[-3.322,39.502],"reverse":true,"nice":false,"zero":false},"axis":null},"y2":{"datum":31.6}}},
{"data":{"values":[{}]},"mark":{"type":"rule","color":"#000000","strokeWidth":2},"encoding":{"y":{"datum":-2.86,"type":"quantitative","scale":{"domain":[-3.322,39.502],"reverse":true,"nice":false,"zero":false},"axis":null}}},
{"data":{"values":[{}]},"mark":{"type":"rule","color":"#000000","strokeWidth":0.8},"encoding":{"y":{"datum":-1.55,"type":"quantitative","scale":{"domain":[-3.322,39.502],"reverse":true,"nice":false,"zero":false},"axis":null}}},
{"data":{"values":[{}]},"mark":{"type":"rule","color":"#000000","strokeWidth":1.5},"encoding":{"y":{"datum":-0.62,"type":"quantitative","scale":{"domain":[-3.322,39.502],"reverse":true,"nice":false,"zero":false},"axis":null}}},
{"data":{"values":[{}]},"mark":{"type":"rule","color":"#000000","strokeWidth":2},"encoding":{"y":{"datum":39.45,"type":"quantitative","scale":{"domain":[-3.322,39.502],"reverse":true,"nice":false,"zero":false},"axis":null}}},
{"data":{"values":[{}]},"mark":{"type":"text","fontSize":7.7,"dx":13},"encoding":{"y":{"datum":-2.164,"type":"quantitative","scale":{"domain":[-3.322,39.502],"reverse":true,"nice":false,"zero":false},"axis":null},"text":{"value":"Forenoon to noon coffee intake"}}},
{"data":{"values":[{}]},"mark":{"type":"text","fontSize":7.4,"dx":1},"encoding":{"y":{"datum":-1.088,"type":"quantitative","scale":{"domain":[-3.322,39.502],"reverse":true,"nice":false,"zero":false},"axis":null},"text":{"value":"HR (95% CI)"}}},
{"data":{"name":"main"},"transform":[{"filter":"datum.period==='Forenoon to noon'"}],"mark":{"type":"text"},"encoding":{"y":{"field":"row","type":"quantitative","scale":{"domain":[-3.322,39.502],"reverse":true,"nice":false,"zero":false},"axis":null},"text":{"field":"hr_text"},"size":{"condition":{"test":"datum.hr_text==='Reference'","value":7.5},"value":6.6}}}
]},

{"width":55,"height":370,"layer":[
{"data":{"values":[{}]},"mark":{"type":"rect","color":"#e6e6e6"},"encoding":{"x":{"datum":0.2276,"type":"quantitative","scale":{"domain":[0.2276,2.4634],"nice":false,"zero":false,"clamp":true},"axis":{"values":[0.5,1,1.5,2],"format":".1f","title":null}},"x2":{"datum":2.4634},"y":{"datum":7.6,"type":"quantitative","scale":{"domain":[-3.322,39.502],"reverse":true,"nice":false,"zero":false},"axis":null},"y2":{"datum":15.3}}},
{"data":{"values":[{}]},"mark":{"type":"rect","color":"#e6e6e6"},"encoding":{"x":{"datum":0.2276,"type":"quantitative","scale":{"domain":[0.2276,2.4634],"nice":false,"zero":false,"clamp":true},"axis":{"values":[0.5,1,1.5,2],"format":".1f","title":null}},"x2":{"datum":2.4634},"y":{"datum":23.7,"type":"quantitative","scale":{"domain":[-3.322,39.502],"reverse":true,"nice":false,"zero":false},"axis":null},"y2":{"datum":31.6}}},
{"data":{"values":[{}]},"mark":{"type":"rule","color":"#000000","strokeWidth":2},"encoding":{"x":{"datum":0.2276,"type":"quantitative","scale":{"domain":[0.2276,2.4634],"nice":false,"zero":false,"clamp":true},"axis":{"values":[0.5,1,1.5,2],"format":".1f","title":null}},"x2":{"datum":2.4634},"y":{"datum":-2.86,"type":"quantitative","scale":{"domain":[-3.322,39.502],"reverse":true,"nice":false,"zero":false},"axis":null}}},
{"data":{"values":[{}]},"mark":{"type":"rule","color":"#000000","strokeWidth":0.8},"encoding":{"x":{"datum":0.2276,"type":"quantitative","scale":{"domain":[0.2276,2.4634],"nice":false,"zero":false,"clamp":true},"axis":{"values":[0.5,1,1.5,2],"format":".1f","title":null}},"x2":{"datum":2.4634},"y":{"datum":-1.55,"type":"quantitative","scale":{"domain":[-3.322,39.502],"reverse":true,"nice":false,"zero":false},"axis":null}}},
{"data":{"values":[{}]},"mark":{"type":"rule","color":"#000000","strokeWidth":1.5},"encoding":{"x":{"datum":0.2276,"type":"quantitative","scale":{"domain":[0.2276,2.4634],"nice":false,"zero":false,"clamp":true},"axis":{"values":[0.5,1,1.5,2],"format":".1f","title":null}},"x2":{"datum":2.4634},"y":{"datum":-0.62,"type":"quantitative","scale":{"domain":[-3.322,39.502],"reverse":true,"nice":false,"zero":false},"axis":null}}},
{"data":{"values":[{}]},"mark":{"type":"rule","color":"#000000","strokeWidth":2},"encoding":{"x":{"datum":0.2276,"type":"quantitative","scale":{"domain":[0.2276,2.4634],"nice":false,"zero":false,"clamp":true},"axis":{"values":[0.5,1,1.5,2],"format":".1f","title":null}},"x2":{"datum":2.4634},"y":{"datum":39.45,"type":"quantitative","scale":{"domain":[-3.322,39.502],"reverse":true,"nice":false,"zero":false},"axis":null}}},
{"data":{"values":[{}]},"mark":{"type":"rule","color":"#8c8c8c","strokeWidth":0.8,"strokeDash":[1.5,1.5]},"encoding":{"x":{"datum":1,"type":"quantitative","scale":{"domain":[0.2276,2.4634],"nice":false,"zero":false,"clamp":true},"axis":{"values":[0.5,1,1.5,2],"format":".1f","title":null}},"y":{"datum":-0.62,"type":"quantitative","scale":{"domain":[-3.322,39.502],"reverse":true,"nice":false,"zero":false},"axis":null},"y2":{"datum":39.45}}},
{"data":{"name":"main"},"transform":[{"filter":"datum.period==='Forenoon to noon' && isValid(datum.lower)"}],"mark":{"type":"rule","color":"#000000","strokeWidth":1},"encoding":{"x":{"field":"lower","type":"quantitative","scale":{"domain":[0.2276,2.4634],"nice":false,"zero":false,"clamp":true},"axis":{"values":[0.5,1,1.5,2],"format":".1f","title":null}},"x2":{"field":"upper"},"y":{"field":"row","type":"quantitative","scale":{"domain":[-3.322,39.502],"reverse":true,"nice":false,"zero":false},"axis":null}}},
{"data":{"name":"main"},"transform":[{"filter":"datum.period==='Forenoon to noon' && isValid(datum.lower)"}],"mark":{"type":"tick","orient":"vertical","color":"#000000","size":3,"thickness":1},"encoding":{"x":{"field":"lower","type":"quantitative","scale":{"domain":[0.2276,2.4634],"nice":false,"zero":false,"clamp":true},"axis":{"values":[0.5,1,1.5,2],"format":".1f","title":null}},"y":{"field":"row","type":"quantitative","scale":{"domain":[-3.322,39.502],"reverse":true,"nice":false,"zero":false},"axis":null}}},
{"data":{"name":"main"},"transform":[{"filter":"datum.period==='Forenoon to noon' && isValid(datum.upper) && datum.upper<=2.4634"}],"mark":{"type":"tick","orient":"vertical","color":"#000000","size":3,"thickness":1},"encoding":{"x":{"field":"upper","type":"quantitative","scale":{"domain":[0.2276,2.4634],"nice":false,"zero":false,"clamp":true},"axis":{"values":[0.5,1,1.5,2],"format":".1f","title":null}},"y":{"field":"row","type":"quantitative","scale":{"domain":[-3.322,39.502],"reverse":true,"nice":false,"zero":false},"axis":null}}},
{"data":{"name":"main"},"transform":[{"filter":"datum.period==='Forenoon to noon' && isValid(datum.upper) && datum.upper>2.4634"}],"mark":{"type":"point","shape":"triangle-right","filled":true,"color":"#000000","opacity":1,"size":12,"dx":-2},"encoding":{"x":{"field":"upper","type":"quantitative","scale":{"domain":[0.2276,2.4634],"nice":false,"zero":false,"clamp":true},"axis":{"values":[0.5,1,1.5,2],"format":".1f","title":null}},"y":{"field":"row","type":"quantitative","scale":{"domain":[-3.322,39.502],"reverse":true,"nice":false,"zero":false},"axis":null}}},
{"data":{"name":"main"},"transform":[{"filter":"datum.period==='Forenoon to noon'"}],"mark":{"type":"point","filled":true,"color":"#dc5656","opacity":1,"size":20},"encoding":{"x":{"field":"hr","type":"quantitative","scale":{"domain":[0.2276,2.4634],"nice":false,"zero":false,"clamp":true},"axis":{"values":[0.5,1,1.5,2],"format":".1f","title":null}},"y":{"field":"row","type":"quantitative","scale":{"domain":[-3.322,39.502],"reverse":true,"nice":false,"zero":false},"axis":null}}}
]},

{"width":20,"height":370,"layer":[
{"data":{"values":[{}]},"mark":{"type":"rect","color":"#e6e6e6"},"encoding":{"y":{"datum":7.6,"type":"quantitative","scale":{"domain":[-3.322,39.502],"reverse":true,"nice":false,"zero":false},"axis":null},"y2":{"datum":15.3}}},
{"data":{"values":[{}]},"mark":{"type":"rect","color":"#e6e6e6"},"encoding":{"y":{"datum":23.7,"type":"quantitative","scale":{"domain":[-3.322,39.502],"reverse":true,"nice":false,"zero":false},"axis":null},"y2":{"datum":31.6}}},
{"data":{"values":[{}]},"mark":{"type":"rule","color":"#000000","strokeWidth":2},"encoding":{"y":{"datum":-2.86,"type":"quantitative","scale":{"domain":[-3.322,39.502],"reverse":true,"nice":false,"zero":false},"axis":null}}},
{"data":{"values":[{}]},"mark":{"type":"rule","color":"#000000","strokeWidth":0.8},"encoding":{"y":{"datum":-1.55,"type":"quantitative","scale":{"domain":[-3.322,39.502],"reverse":true,"nice":false,"zero":false},"axis":null}}},
{"data":{"values":[{}]},"mark":{"type":"rule","color":"#000000","strokeWidth":1.5},"encoding":{"y":{"datum":-0.62,"type":"quantitative","scale":{"domain":[-3.322,39.502],"reverse":true,"nice":false,"zero":false},"axis":null}}},
{"data":{"values":[{}]},"mark":{"type":"rule","color":"#000000","strokeWidth":2},"encoding":{"y":{"datum":39.45,"type":"quantitative","scale":{"domain":[-3.322,39.502],"reverse":true,"nice":false,"zero":false},"axis":null}}},
{"data":{"values":[{}]},"mark":{"type":"text","fontSize":7.4},"encoding":{"y":{"datum":-1.088,"type":"quantitative","scale":{"domain":[-3.322,39.502],"reverse":true,"nice":false,"zero":false},"axis":null},"text":{"value":"P value"}}},
{"data":{"name":"main"},"transform":[{"filter":"datum.period==='Forenoon to noon' && isValid(datum.p)"}],"mark":{"type":"text","fontSize":7},"encoding":{"y":{"field":"row","type":"quantitative","scale":{"domain":[-3.322,39.502],"reverse":true,"nice":false,"zero":false},"axis":null},"text":{"field":"p"}}}
]},

{"width":73,"height":370,"layer":[
{"data":{"values":[{}]},"mark":{"type":"rect","color":"#e6e6e6"},"encoding":{"y":{"datum":7.6,"type":"quantitative","scale":{"domain":[-3.322,39.502],"reverse":true,"nice":false,"zero":false},"axis":null},"y2":{"datum":15.3}}},
{"data":{"values":[{}]},"mark":{"type":"rect","color":"#e6e6e6"},"encoding":{"y":{"datum":23.7,"type":"quantitative","scale":{"domain":[-3.322,39.502],"reverse":true,"nice":false,"zero":false},"axis":null},"y2":{"datum":31.6}}},
{"data":{"values":[{}]},"mark":{"type":"rule","color":"#000000","strokeWidth":2},"encoding":{"y":{"datum":-2.86,"type":"quantitative","scale":{"domain":[-3.322,39.502],"reverse":true,"nice":false,"zero":false},"axis":null}}},
{"data":{"values":[{}]},"mark":{"type":"rule","color":"#000000","strokeWidth":0.8},"encoding":{"y":{"datum":-1.55,"type":"quantitative","scale":{"domain":[-3.322,39.502],"reverse":true,"nice":false,"zero":false},"axis":null}}},
{"data":{"values":[{}]},"mark":{"type":"rule","color":"#000000","strokeWidth":1.5},"encoding":{"y":{"datum":-0.62,"type":"quantitative","scale":{"domain":[-3.322,39.502],"reverse":true,"nice":false,"zero":false},"axis":null}}},
{"data":{"values":[{}]},"mark":{"type":"rule","color":"#000000","strokeWidth":2},"encoding":{"y":{"datum":39.45,"type":"quantitative","scale":{"domain":[-3.322,39.502],"reverse":true,"nice":false,"zero":false},"axis":null}}},
{"data":{"name":"labels"},"transform":[{"filter":"datum.kind==='group'"}],"mark":{"type":"text","align":"left","dx":-31.5,"fontSize":7.6},"encoding":{"y":{"field":"row","type":"quantitative","scale":{"domain":[-3.322,39.502],"reverse":true,"nice":false,"zero":false},"axis":null},"text":{"field":"text"}}},
{"data":{"name":"main"},"transform":[{"filter":"datum.period==='Noon to evening'"}],"mark":{"type":"text","fontSize":7.2},"encoding":{"y":{"field":"row","type":"quantitative","scale":{"domain":[-3.322,39.502],"reverse":true,"nice":false,"zero":false},"axis":null},"text":{"field":"level"}}}
]},

{"width":54,"height":370,"layer":[
{"data":{"values":[{}]},"mark":{"type":"rect","color":"#e6e6e6"},"encoding":{"y":{"datum":7.6,"type":"quantitative","scale":{"domain":[-3.322,39.502],"reverse":true,"nice":false,"zero":false},"axis":null},"y2":{"datum":15.3}}},
{"data":{"values":[{}]},"mark":{"type":"rect","color":"#e6e6e6"},"encoding":{"y":{"datum":23.7,"type":"quantitative","scale":{"domain":[-3.322,39.502],"reverse":true,"nice":false,"zero":false},"axis":null},"y2":{"datum":31.6}}},
{"data":{"values":[{}]},"mark":{"type":"rule","color":"#000000","strokeWidth":2},"encoding":{"y":{"datum":-2.86,"type":"quantitative","scale":{"domain":[-3.322,39.502],"reverse":true,"nice":false,"zero":false},"axis":null}}},
{"data":{"values":[{}]},"mark":{"type":"rule","color":"#000000","strokeWidth":0.8},"encoding":{"y":{"datum":-1.55,"type":"quantitative","scale":{"domain":[-3.322,39.502],"reverse":true,"nice":false,"zero":false},"axis":null}}},
{"data":{"values":[{}]},"mark":{"type":"rule","color":"#000000","strokeWidth":1.5},"encoding":{"y":{"datum":-0.62,"type":"quantitative","scale":{"domain":[-3.322,39.502],"reverse":true,"nice":false,"zero":false},"axis":null}}},
{"data":{"values":[{}]},"mark":{"type":"rule","color":"#000000","strokeWidth":2},"encoding":{"y":{"datum":39.45,"type":"quantitative","scale":{"domain":[-3.322,39.502],"reverse":true,"nice":false,"zero":false},"axis":null}}},
{"data":{"values":[{}]},"mark":{"type":"text","fontSize":7.4,"dx":-2},"encoding":{"y":{"datum":-1.088,"type":"quantitative","scale":{"domain":[-3.322,39.502],"reverse":true,"nice":false,"zero":false},"axis":null},"text":{"value":"Proportion"}}},
{"data":{"name":"main"},"transform":[{"filter":"datum.period==='Noon to evening'"}],"mark":{"type":"text","fontSize":6.7,"dx":-2},"encoding":{"y":{"field":"row","type":"quantitative","scale":{"domain":[-3.322,39.502],"reverse":true,"nice":false,"zero":false},"axis":null},"text":{"field":"proportion"}}}
]},

{"width":51,"height":370,"layer":[
{"data":{"values":[{}]},"mark":{"type":"rect","color":"#e6e6e6"},"encoding":{"y":{"datum":7.6,"type":"quantitative","scale":{"domain":[-3.322,39.502],"reverse":true,"nice":false,"zero":false},"axis":null},"y2":{"datum":15.3}}},
{"data":{"values":[{}]},"mark":{"type":"rect","color":"#e6e6e6"},"encoding":{"y":{"datum":23.7,"type":"quantitative","scale":{"domain":[-3.322,39.502],"reverse":true,"nice":false,"zero":false},"axis":null},"y2":{"datum":31.6}}},
{"data":{"values":[{}]},"mark":{"type":"rule","color":"#000000","strokeWidth":2},"encoding":{"y":{"datum":-2.86,"type":"quantitative","scale":{"domain":[-3.322,39.502],"reverse":true,"nice":false,"zero":false},"axis":null}}},
{"data":{"values":[{}]},"mark":{"type":"rule","color":"#000000","strokeWidth":0.8},"encoding":{"y":{"datum":-1.55,"type":"quantitative","scale":{"domain":[-3.322,39.502],"reverse":true,"nice":false,"zero":false},"axis":null}}},
{"data":{"values":[{}]},"mark":{"type":"rule","color":"#000000","strokeWidth":1.5},"encoding":{"y":{"datum":-0.62,"type":"quantitative","scale":{"domain":[-3.322,39.502],"reverse":true,"nice":false,"zero":false},"axis":null}}},
{"data":{"values":[{}]},"mark":{"type":"rule","color":"#000000","strokeWidth":2},"encoding":{"y":{"datum":39.45,"type":"quantitative","scale":{"domain":[-3.322,39.502],"reverse":true,"nice":false,"zero":false},"axis":null}}},
{"data":{"values":[{}]},"mark":{"type":"text","fontSize":7.7,"dx":24.5},"encoding":{"y":{"datum":-2.164,"type":"quantitative","scale":{"domain":[-3.322,39.502],"reverse":true,"nice":false,"zero":false},"axis":null},"text":{"value":"Noon to evening coffee intake"}}},
{"data":{"values":[{}]},"mark":{"type":"text","fontSize":7.4,"dx":2.5},"encoding":{"y":{"datum":-1.088,"type":"quantitative","scale":{"domain":[-3.322,39.502],"reverse":true,"nice":false,"zero":false},"axis":null},"text":{"value":"HR (95% CI)"}}},
{"data":{"name":"main"},"transform":[{"filter":"datum.period==='Noon to evening'"}],"mark":{"type":"text"},"encoding":{"y":{"field":"row","type":"quantitative","scale":{"domain":[-3.322,39.502],"reverse":true,"nice":false,"zero":false},"axis":null},"text":{"field":"hr_text"},"size":{"condition":{"test":"datum.hr_text==='Reference'","value":7.5},"value":6.6}}}
]},

{"width":59,"height":370,"layer":[
{"data":{"values":[{}]},"mark":{"type":"rect","color":"#e6e6e6"},"encoding":{"x":{"datum":-0.016,"type":"quantitative","scale":{"domain":[-0.016,2.316],"nice":false,"zero":false,"clamp":true},"axis":{"values":[0.5,1,1.5,2],"format":".1f","title":null}},"x2":{"datum":2.316},"y":{"datum":7.6,"type":"quantitative","scale":{"domain":[-3.322,39.502],"reverse":true,"nice":false,"zero":false},"axis":null},"y2":{"datum":15.3}}},
{"data":{"values":[{}]},"mark":{"type":"rect","color":"#e6e6e6"},"encoding":{"x":{"datum":-0.016,"type":"quantitative","scale":{"domain":[-0.016,2.316],"nice":false,"zero":false,"clamp":true},"axis":{"values":[0.5,1,1.5,2],"format":".1f","title":null}},"x2":{"datum":2.316},"y":{"datum":23.7,"type":"quantitative","scale":{"domain":[-3.322,39.502],"reverse":true,"nice":false,"zero":false},"axis":null},"y2":{"datum":31.6}}},
{"data":{"values":[{}]},"mark":{"type":"rule","color":"#000000","strokeWidth":2},"encoding":{"x":{"datum":-0.016,"type":"quantitative","scale":{"domain":[-0.016,2.316],"nice":false,"zero":false,"clamp":true},"axis":{"values":[0.5,1,1.5,2],"format":".1f","title":null}},"x2":{"datum":2.316},"y":{"datum":-2.86,"type":"quantitative","scale":{"domain":[-3.322,39.502],"reverse":true,"nice":false,"zero":false},"axis":null}}},
{"data":{"values":[{}]},"mark":{"type":"rule","color":"#000000","strokeWidth":0.8},"encoding":{"x":{"datum":-0.016,"type":"quantitative","scale":{"domain":[-0.016,2.316],"nice":false,"zero":false,"clamp":true},"axis":{"values":[0.5,1,1.5,2],"format":".1f","title":null}},"x2":{"datum":2.316},"y":{"datum":-1.55,"type":"quantitative","scale":{"domain":[-3.322,39.502],"reverse":true,"nice":false,"zero":false},"axis":null}}},
{"data":{"values":[{}]},"mark":{"type":"rule","color":"#000000","strokeWidth":1.5},"encoding":{"x":{"datum":-0.016,"type":"quantitative","scale":{"domain":[-0.016,2.316],"nice":false,"zero":false,"clamp":true},"axis":{"values":[0.5,1,1.5,2],"format":".1f","title":null}},"x2":{"datum":2.316},"y":{"datum":-0.62,"type":"quantitative","scale":{"domain":[-3.322,39.502],"reverse":true,"nice":false,"zero":false},"axis":null}}},
{"data":{"values":[{}]},"mark":{"type":"rule","color":"#000000","strokeWidth":2},"encoding":{"x":{"datum":-0.016,"type":"quantitative","scale":{"domain":[-0.016,2.316],"nice":false,"zero":false,"clamp":true},"axis":{"values":[0.5,1,1.5,2],"format":".1f","title":null}},"x2":{"datum":2.316},"y":{"datum":39.45,"type":"quantitative","scale":{"domain":[-3.322,39.502],"reverse":true,"nice":false,"zero":false},"axis":null}}},
{"data":{"values":[{}]},"mark":{"type":"rule","color":"#8c8c8c","strokeWidth":0.8,"strokeDash":[1.5,1.5]},"encoding":{"x":{"datum":1,"type":"quantitative","scale":{"domain":[-0.016,2.316],"nice":false,"zero":false,"clamp":true},"axis":{"values":[0.5,1,1.5,2],"format":".1f","title":null}},"y":{"datum":-0.62,"type":"quantitative","scale":{"domain":[-3.322,39.502],"reverse":true,"nice":false,"zero":false},"axis":null},"y2":{"datum":39.45}}},
{"data":{"name":"main"},"transform":[{"filter":"datum.period==='Noon to evening' && isValid(datum.lower)"}],"mark":{"type":"rule","color":"#000000","strokeWidth":1},"encoding":{"x":{"field":"lower","type":"quantitative","scale":{"domain":[-0.016,2.316],"nice":false,"zero":false,"clamp":true},"axis":{"values":[0.5,1,1.5,2],"format":".1f","title":null}},"x2":{"field":"upper"},"y":{"field":"row","type":"quantitative","scale":{"domain":[-3.322,39.502],"reverse":true,"nice":false,"zero":false},"axis":null}}},
{"data":{"name":"main"},"transform":[{"filter":"datum.period==='Noon to evening' && isValid(datum.lower)"}],"mark":{"type":"tick","orient":"vertical","color":"#000000","size":3,"thickness":1},"encoding":{"x":{"field":"lower","type":"quantitative","scale":{"domain":[-0.016,2.316],"nice":false,"zero":false,"clamp":true},"axis":{"values":[0.5,1,1.5,2],"format":".1f","title":null}},"y":{"field":"row","type":"quantitative","scale":{"domain":[-3.322,39.502],"reverse":true,"nice":false,"zero":false},"axis":null}}},
{"data":{"name":"main"},"transform":[{"filter":"datum.period==='Noon to evening' && isValid(datum.upper) && datum.upper<=2.316"}],"mark":{"type":"tick","orient":"vertical","color":"#000000","size":3,"thickness":1},"encoding":{"x":{"field":"upper","type":"quantitative","scale":{"domain":[-0.016,2.316],"nice":false,"zero":false,"clamp":true},"axis":{"values":[0.5,1,1.5,2],"format":".1f","title":null}},"y":{"field":"row","type":"quantitative","scale":{"domain":[-3.322,39.502],"reverse":true,"nice":false,"zero":false},"axis":null}}},
{"data":{"name":"main"},"transform":[{"filter":"datum.period==='Noon to evening'"}],"mark":{"type":"point","filled":true,"color":"#dc5656","opacity":1,"size":20},"encoding":{"x":{"field":"hr","type":"quantitative","scale":{"domain":[-0.016,2.316],"nice":false,"zero":false,"clamp":true},"axis":{"values":[0.5,1,1.5,2],"format":".1f","title":null}},"y":{"field":"row","type":"quantitative","scale":{"domain":[-3.322,39.502],"reverse":true,"nice":false,"zero":false},"axis":null}}}
]},

{"width":20,"height":370,"layer":[
{"data":{"values":[{}]},"mark":{"type":"rect","color":"#e6e6e6"},"encoding":{"y":{"datum":7.6,"type":"quantitative","scale":{"domain":[-3.322,39.502],"reverse":true,"nice":false,"zero":false},"axis":null},"y2":{"datum":15.3}}},
{"data":{"values":[{}]},"mark":{"type":"rect","color":"#e6e6e6"},"encoding":{"y":{"datum":23.7,"type":"quantitative","scale":{"domain":[-3.322,39.502],"reverse":true,"nice":false,"zero":false},"axis":null},"y2":{"datum":31.6}}},
{"data":{"values":[{}]},"mark":{"type":"rule","color":"#000000","strokeWidth":2},"encoding":{"y":{"datum":-2.86,"type":"quantitative","scale":{"domain":[-3.322,39.502],"reverse":true,"nice":false,"zero":false},"axis":null}}},
{"data":{"values":[{}]},"mark":{"type":"rule","color":"#000000","strokeWidth":0.8},"encoding":{"y":{"datum":-1.55,"type":"quantitative","scale":{"domain":[-3.322,39.502],"reverse":true,"nice":false,"zero":false},"axis":null}}},
{"data":{"values":[{}]},"mark":{"type":"rule","color":"#000000","strokeWidth":1.5},"encoding":{"y":{"datum":-0.62,"type":"quantitative","scale":{"domain":[-3.322,39.502],"reverse":true,"nice":false,"zero":false},"axis":null}}},
{"data":{"values":[{}]},"mark":{"type":"rule","color":"#000000","strokeWidth":2},"encoding":{"y":{"datum":39.45,"type":"quantitative","scale":{"domain":[-3.322,39.502],"reverse":true,"nice":false,"zero":false},"axis":null}}},
{"data":{"values":[{}]},"mark":{"type":"text","fontSize":7.4,"dx":2},"encoding":{"y":{"datum":-1.088,"type":"quantitative","scale":{"domain":[-3.322,39.502],"reverse":true,"nice":false,"zero":false},"axis":null},"text":{"value":"P value"}}},
{"data":{"name":"main"},"transform":[{"filter":"datum.period==='Noon to evening' && isValid(datum.p)"}],"mark":{"type":"text","fontSize":7,"dx":1},"encoding":{"y":{"field":"row","type":"quantitative","scale":{"domain":[-3.322,39.502],"reverse":true,"nice":false,"zero":false},"axis":null},"text":{"field":"p"}}}
]},

{"width":69,"height":370,"layer":[
{"data":{"values":[{}]},"mark":{"type":"rect","color":"#e6e6e6"},"encoding":{"y":{"datum":7.6,"type":"quantitative","scale":{"domain":[-3.322,39.502],"reverse":true,"nice":false,"zero":false},"axis":null},"y2":{"datum":15.3}}},
{"data":{"values":[{}]},"mark":{"type":"rect","color":"#e6e6e6"},"encoding":{"y":{"datum":23.7,"type":"quantitative","scale":{"domain":[-3.322,39.502],"reverse":true,"nice":false,"zero":false},"axis":null},"y2":{"datum":31.6}}},
{"data":{"values":[{}]},"mark":{"type":"rule","color":"#000000","strokeWidth":2},"encoding":{"y":{"datum":-2.86,"type":"quantitative","scale":{"domain":[-3.322,39.502],"reverse":true,"nice":false,"zero":false},"axis":null}}},
{"data":{"values":[{}]},"mark":{"type":"rule","color":"#000000","strokeWidth":0.8},"encoding":{"y":{"datum":-1.55,"type":"quantitative","scale":{"domain":[-3.322,39.502],"reverse":true,"nice":false,"zero":false},"axis":null}}},
{"data":{"values":[{}]},"mark":{"type":"rule","color":"#000000","strokeWidth":1.5},"encoding":{"y":{"datum":-0.62,"type":"quantitative","scale":{"domain":[-3.322,39.502],"reverse":true,"nice":false,"zero":false},"axis":null}}},
{"data":{"values":[{}]},"mark":{"type":"rule","color":"#000000","strokeWidth":2},"encoding":{"y":{"datum":39.45,"type":"quantitative","scale":{"domain":[-3.322,39.502],"reverse":true,"nice":false,"zero":false},"axis":null}}},
{"data":{"name":"labels"},"transform":[{"filter":"datum.kind==='group'"}],"mark":{"type":"text","align":"left","dx":-33.5,"fontSize":7.6},"encoding":{"y":{"field":"row","type":"quantitative","scale":{"domain":[-3.322,39.502],"reverse":true,"nice":false,"zero":false},"axis":null},"text":{"field":"text"}}},
{"data":{"name":"main"},"transform":[{"filter":"datum.period==='Evening to dawn'"}],"mark":{"type":"text","fontSize":7.2,"dx":-18.5},"encoding":{"y":{"field":"row","type":"quantitative","scale":{"domain":[-3.322,39.502],"reverse":true,"nice":false,"zero":false},"axis":null},"text":{"field":"level"}}}
]},

{"width":53,"height":370,"layer":[
{"data":{"values":[{}]},"mark":{"type":"rect","color":"#e6e6e6"},"encoding":{"y":{"datum":7.6,"type":"quantitative","scale":{"domain":[-3.322,39.502],"reverse":true,"nice":false,"zero":false},"axis":null},"y2":{"datum":15.3}}},
{"data":{"values":[{}]},"mark":{"type":"rect","color":"#e6e6e6"},"encoding":{"y":{"datum":23.7,"type":"quantitative","scale":{"domain":[-3.322,39.502],"reverse":true,"nice":false,"zero":false},"axis":null},"y2":{"datum":31.6}}},
{"data":{"values":[{}]},"mark":{"type":"rule","color":"#000000","strokeWidth":2},"encoding":{"y":{"datum":-2.86,"type":"quantitative","scale":{"domain":[-3.322,39.502],"reverse":true,"nice":false,"zero":false},"axis":null}}},
{"data":{"values":[{}]},"mark":{"type":"rule","color":"#000000","strokeWidth":0.8},"encoding":{"y":{"datum":-1.55,"type":"quantitative","scale":{"domain":[-3.322,39.502],"reverse":true,"nice":false,"zero":false},"axis":null}}},
{"data":{"values":[{}]},"mark":{"type":"rule","color":"#000000","strokeWidth":1.5},"encoding":{"y":{"datum":-0.62,"type":"quantitative","scale":{"domain":[-3.322,39.502],"reverse":true,"nice":false,"zero":false},"axis":null}}},
{"data":{"values":[{}]},"mark":{"type":"rule","color":"#000000","strokeWidth":2},"encoding":{"y":{"datum":39.45,"type":"quantitative","scale":{"domain":[-3.322,39.502],"reverse":true,"nice":false,"zero":false},"axis":null}}},
{"data":{"values":[{}]},"mark":{"type":"text","fontSize":7.4,"dx":-1.5},"encoding":{"y":{"datum":-1.088,"type":"quantitative","scale":{"domain":[-3.322,39.502],"reverse":true,"nice":false,"zero":false},"axis":null},"text":{"value":"Proportion"}}},
{"data":{"name":"main"},"transform":[{"filter":"datum.period==='Evening to dawn'"}],"mark":{"type":"text","fontSize":6.7,"dx":-2.5},"encoding":{"y":{"field":"row","type":"quantitative","scale":{"domain":[-3.322,39.502],"reverse":true,"nice":false,"zero":false},"axis":null},"text":{"field":"proportion"}}}
]},

{"width":50,"height":370,"layer":[
{"data":{"values":[{}]},"mark":{"type":"rect","color":"#e6e6e6"},"encoding":{"y":{"datum":7.6,"type":"quantitative","scale":{"domain":[-3.322,39.502],"reverse":true,"nice":false,"zero":false},"axis":null},"y2":{"datum":15.3}}},
{"data":{"values":[{}]},"mark":{"type":"rect","color":"#e6e6e6"},"encoding":{"y":{"datum":23.7,"type":"quantitative","scale":{"domain":[-3.322,39.502],"reverse":true,"nice":false,"zero":false},"axis":null},"y2":{"datum":31.6}}},
{"data":{"values":[{}]},"mark":{"type":"rule","color":"#000000","strokeWidth":2},"encoding":{"y":{"datum":-2.86,"type":"quantitative","scale":{"domain":[-3.322,39.502],"reverse":true,"nice":false,"zero":false},"axis":null}}},
{"data":{"values":[{}]},"mark":{"type":"rule","color":"#000000","strokeWidth":0.8},"encoding":{"y":{"datum":-1.55,"type":"quantitative","scale":{"domain":[-3.322,39.502],"reverse":true,"nice":false,"zero":false},"axis":null}}},
{"data":{"values":[{}]},"mark":{"type":"rule","color":"#000000","strokeWidth":1.5},"encoding":{"y":{"datum":-0.62,"type":"quantitative","scale":{"domain":[-3.322,39.502],"reverse":true,"nice":false,"zero":false},"axis":null}}},
{"data":{"values":[{}]},"mark":{"type":"rule","color":"#000000","strokeWidth":2},"encoding":{"y":{"datum":39.45,"type":"quantitative","scale":{"domain":[-3.322,39.502],"reverse":true,"nice":false,"zero":false},"axis":null}}},
{"data":{"values":[{}]},"mark":{"type":"text","fontSize":7.7,"dx":-1},"encoding":{"y":{"datum":-2.164,"type":"quantitative","scale":{"domain":[-3.322,39.502],"reverse":true,"nice":false,"zero":false},"axis":null},"text":{"value":"Evening to dawn coffee intake"}}},
{"data":{"values":[{}]},"mark":{"type":"text","fontSize":7.4,"dx":-10},"encoding":{"y":{"datum":-1.088,"type":"quantitative","scale":{"domain":[-3.322,39.502],"reverse":true,"nice":false,"zero":false},"axis":null},"text":{"value":"HR (95% CI)"}}},
{"data":{"name":"main"},"transform":[{"filter":"datum.period==='Evening to dawn'"}],"mark":{"type":"text"},"encoding":{"y":{"field":"row","type":"quantitative","scale":{"domain":[-3.322,39.502],"reverse":true,"nice":false,"zero":false},"axis":null},"text":{"field":"hr_text"},"size":{"condition":{"test":"datum.hr_text==='Reference'","value":7.5},"value":6.6}}}
]},

{"width":59,"height":370,"layer":[
{"data":{"values":[{}]},"mark":{"type":"rect","color":"#e6e6e6"},"encoding":{"x":{"datum":-0.159,"type":"quantitative","scale":{"domain":[-0.159,2.249],"nice":false,"zero":false,"clamp":true},"axis":{"values":[0,0.5,1,1.5,2],"format":".1f","title":null}},"x2":{"datum":2.249},"y":{"datum":7.6,"type":"quantitative","scale":{"domain":[-3.322,39.502],"reverse":true,"nice":false,"zero":false},"axis":null},"y2":{"datum":15.3}}},
{"data":{"values":[{}]},"mark":{"type":"rect","color":"#e6e6e6"},"encoding":{"x":{"datum":-0.159,"type":"quantitative","scale":{"domain":[-0.159,2.249],"nice":false,"zero":false,"clamp":true},"axis":{"values":[0,0.5,1,1.5,2],"format":".1f","title":null}},"x2":{"datum":2.249},"y":{"datum":23.7,"type":"quantitative","scale":{"domain":[-3.322,39.502],"reverse":true,"nice":false,"zero":false},"axis":null},"y2":{"datum":31.6}}},
{"data":{"values":[{}]},"mark":{"type":"rule","color":"#000000","strokeWidth":2},"encoding":{"x":{"datum":-0.159,"type":"quantitative","scale":{"domain":[-0.159,2.249],"nice":false,"zero":false,"clamp":true},"axis":{"values":[0,0.5,1,1.5,2],"format":".1f","title":null}},"x2":{"datum":2.249},"y":{"datum":-2.86,"type":"quantitative","scale":{"domain":[-3.322,39.502],"reverse":true,"nice":false,"zero":false},"axis":null}}},
{"data":{"values":[{}]},"mark":{"type":"rule","color":"#000000","strokeWidth":0.8},"encoding":{"x":{"datum":-0.159,"type":"quantitative","scale":{"domain":[-0.159,2.249],"nice":false,"zero":false,"clamp":true},"axis":{"values":[0,0.5,1,1.5,2],"format":".1f","title":null}},"x2":{"datum":2.249},"y":{"datum":-1.55,"type":"quantitative","scale":{"domain":[-3.322,39.502],"reverse":true,"nice":false,"zero":false},"axis":null}}},
{"data":{"values":[{}]},"mark":{"type":"rule","color":"#000000","strokeWidth":1.5},"encoding":{"x":{"datum":-0.159,"type":"quantitative","scale":{"domain":[-0.159,2.249],"nice":false,"zero":false,"clamp":true},"axis":{"values":[0,0.5,1,1.5,2],"format":".1f","title":null}},"x2":{"datum":2.249},"y":{"datum":-0.62,"type":"quantitative","scale":{"domain":[-3.322,39.502],"reverse":true,"nice":false,"zero":false},"axis":null}}},
{"data":{"values":[{}]},"mark":{"type":"rule","color":"#000000","strokeWidth":2},"encoding":{"x":{"datum":-0.159,"type":"quantitative","scale":{"domain":[-0.159,2.249],"nice":false,"zero":false,"clamp":true},"axis":{"values":[0,0.5,1,1.5,2],"format":".1f","title":null}},"x2":{"datum":2.249},"y":{"datum":39.45,"type":"quantitative","scale":{"domain":[-3.322,39.502],"reverse":true,"nice":false,"zero":false},"axis":null}}},
{"data":{"values":[{}]},"mark":{"type":"rule","color":"#8c8c8c","strokeWidth":0.8,"strokeDash":[1.5,1.5]},"encoding":{"x":{"datum":1,"type":"quantitative","scale":{"domain":[-0.159,2.249],"nice":false,"zero":false,"clamp":true},"axis":{"values":[0,0.5,1,1.5,2],"format":".1f","title":null}},"y":{"datum":-0.62,"type":"quantitative","scale":{"domain":[-3.322,39.502],"reverse":true,"nice":false,"zero":false},"axis":null},"y2":{"datum":39.45}}},
{"data":{"name":"main"},"transform":[{"filter":"datum.period==='Evening to dawn' && isValid(datum.lower)"}],"mark":{"type":"rule","color":"#000000","strokeWidth":1},"encoding":{"x":{"field":"lower","type":"quantitative","scale":{"domain":[-0.159,2.249],"nice":false,"zero":false,"clamp":true},"axis":{"values":[0,0.5,1,1.5,2],"format":".1f","title":null}},"x2":{"field":"upper"},"y":{"field":"row","type":"quantitative","scale":{"domain":[-3.322,39.502],"reverse":true,"nice":false,"zero":false},"axis":null}}},
{"data":{"name":"main"},"transform":[{"filter":"datum.period==='Evening to dawn' && isValid(datum.lower)"}],"mark":{"type":"tick","orient":"vertical","color":"#000000","size":3,"thickness":1},"encoding":{"x":{"field":"lower","type":"quantitative","scale":{"domain":[-0.159,2.249],"nice":false,"zero":false,"clamp":true},"axis":{"values":[0,0.5,1,1.5,2],"format":".1f","title":null}},"y":{"field":"row","type":"quantitative","scale":{"domain":[-3.322,39.502],"reverse":true,"nice":false,"zero":false},"axis":null}}},
{"data":{"name":"main"},"transform":[{"filter":"datum.period==='Evening to dawn' && isValid(datum.upper) && datum.upper<=2.249"}],"mark":{"type":"tick","orient":"vertical","color":"#000000","size":3,"thickness":1},"encoding":{"x":{"field":"upper","type":"quantitative","scale":{"domain":[-0.159,2.249],"nice":false,"zero":false,"clamp":true},"axis":{"values":[0,0.5,1,1.5,2],"format":".1f","title":null}},"y":{"field":"row","type":"quantitative","scale":{"domain":[-3.322,39.502],"reverse":true,"nice":false,"zero":false},"axis":null}}},
{"data":{"name":"main"},"transform":[{"filter":"datum.period==='Evening to dawn'"}],"mark":{"type":"point","filled":true,"color":"#dc5656","opacity":1,"size":20},"encoding":{"x":{"field":"hr","type":"quantitative","scale":{"domain":[-0.159,2.249],"nice":false,"zero":false,"clamp":true},"axis":{"values":[0,0.5,1,1.5,2],"format":".1f","title":null}},"y":{"field":"row","type":"quantitative","scale":{"domain":[-3.322,39.502],"reverse":true,"nice":false,"zero":false},"axis":null}}}
]},

{"width":25,"height":370,"layer":[
{"data":{"values":[{}]},"mark":{"type":"rect","color":"#e6e6e6"},"encoding":{"y":{"datum":7.6,"type":"quantitative","scale":{"domain":[-3.322,39.502],"reverse":true,"nice":false,"zero":false},"axis":null},"y2":{"datum":15.3}}},
{"data":{"values":[{}]},"mark":{"type":"rect","color":"#e6e6e6"},"encoding":{"y":{"datum":23.7,"type":"quantitative","scale":{"domain":[-3.322,39.502],"reverse":true,"nice":false,"zero":false},"axis":null},"y2":{"datum":31.6}}},
{"data":{"values":[{}]},"mark":{"type":"rule","color":"#000000","strokeWidth":2},"encoding":{"y":{"datum":-2.86,"type":"quantitative","scale":{"domain":[-3.322,39.502],"reverse":true,"nice":false,"zero":false},"axis":null}}},
{"data":{"values":[{}]},"mark":{"type":"rule","color":"#000000","strokeWidth":0.8},"encoding":{"y":{"datum":-1.55,"type":"quantitative","scale":{"domain":[-3.322,39.502],"reverse":true,"nice":false,"zero":false},"axis":null}}},
{"data":{"values":[{}]},"mark":{"type":"rule","color":"#000000","strokeWidth":1.5},"encoding":{"y":{"datum":-0.62,"type":"quantitative","scale":{"domain":[-3.322,39.502],"reverse":true,"nice":false,"zero":false},"axis":null}}},
{"data":{"values":[{}]},"mark":{"type":"rule","color":"#000000","strokeWidth":2},"encoding":{"y":{"datum":39.45,"type":"quantitative","scale":{"domain":[-3.322,39.502],"reverse":true,"nice":false,"zero":false},"axis":null}}},
{"data":{"values":[{}]},"mark":{"type":"text","fontSize":7.4},"encoding":{"y":{"datum":-1.088,"type":"quantitative","scale":{"domain":[-3.322,39.502],"reverse":true,"nice":false,"zero":false},"axis":null},"text":{"value":"P value"}}},
{"data":{"name":"main"},"transform":[{"filter":"datum.period==='Evening to dawn' && isValid(datum.p)"}],"mark":{"type":"text","fontSize":7,"dx":-2},"encoding":{"y":{"field":"row","type":"quantitative","scale":{"domain":[-3.322,39.502],"reverse":true,"nice":false,"zero":false},"axis":null},"text":{"field":"p"}}}
]}
]
}
